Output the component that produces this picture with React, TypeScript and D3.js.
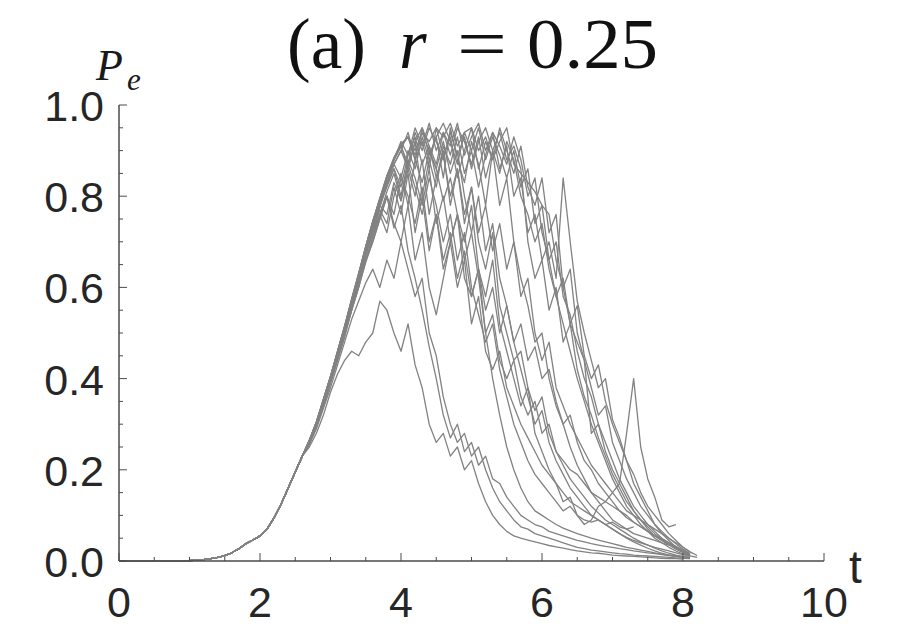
import React from "react";
import * as d3 from "d3";

const W = 910;
const H = 631;

const xTicks = [0, 2, 4, 6, 8, 10];
const yTicks = [0, 0.2, 0.4, 0.6, 0.8, 1.0];

// every run is sampled every 0.1 in t; the shared rise covers t = 0 .. 2.6
const tStep = 0.1;
const branchT = 2.7;
const rise = [0, 0, 0, 0, 0, 0, 0, 0, 0, 0, 0.001, 0.002, 0.003, 0.005, 0.008, 0.012, 0.018, 0.027, 0.038, 0.046, 0.055, 0.07, 0.095, 0.125, 0.16, 0.195, 0.23];

// values from t = 2.7 onwards
const run01 = [.265, .305, .355, .405, .46, .515, .575, .63, .69, .745, .795, .845, .885, .915, .93, .90, .94, .92, .95, .93, .96, .91, .94, .95, .90, .93, .88, .92, .95, .87, .85, .83, .81, .78, .76, .66, .60, .52, .56, .45, .40, .43, .35, .30, .26, .22, .17, .14, .11, .08, .06, .045, .03, .02, .012];
const run02 = [.26, .30, .35, .40, .455, .51, .57, .625, .68, .735, .78, .83, .87, .84, .90, .86, .93, .88, .82, .91, .87, .93, .85, .90, .82, .89, .94, .86, .91, .80, .84, .72, .76, .66, .70, .62, .84, .70, .57, .50, .44, .38, .40, .31, .27, .22, .19, .15, .12, .10, .08, .06, .045, .03, .02, .012];
const run03 = [.26, .295, .34, .39, .44, .49, .55, .60, .66, .71, .76, .72, .80, .85, .78, .88, .83, .90, .86, .79, .84, .76, .70, .78, .64, .58, .66, .52, .46, .40, .34, .38, .28, .24, .20, .17, .13, .14, .10, .08, .09, .12, .13, .15, .17, .28, .40, .25, .18, .14, .09, .075, .08];
const run04 = [.25, .28, .32, .37, .41, .44, .46, .45, .48, .50, .57, .55, .50, .46, .52, .43, .38, .30, .26, .28, .23, .25, .20, .22, .17, .13, .10, .08, .065, .055, .05, .046, .042, .038, .034, .031, .028, .025, .022, .02, .018, .017, .015, .013, .012, .011, .01, .009, .008, .007, .006, .005, .005, .004];
const run05 = [.255, .29, .335, .38, .43, .48, .53, .57, .61, .64, .60, .66, .62, .70, .64, .58, .62, .50, .45, .36, .30, .26, .28, .23, .25, .20, .16, .13, .11, .09, .075, .07, .06, .055, .05, .045, .04, .035, .03, .027, .024, .022, .02, .018, .016, .015, .013, .012, .011, .01, .009, .008, .007, .006, .005];
const run06 = [.26, .30, .345, .395, .45, .50, .555, .61, .66, .70, .75, .80, .73, .78, .68, .62, .55, .47, .40, .32, .27, .30, .24, .26, .21, .23, .18, .17, .14, .12, .10, .09, .08, .075, .065, .06, .055, .05, .045, .042, .038, .035, .032, .03, .027, .025, .022, .02, .018, .016, .014, .012, .01, .009, .008];
const run07 = [.262, .30, .35, .40, .455, .51, .565, .62, .68, .73, .78, .82, .86, .80, .88, .84, .78, .86, .74, .80, .70, .76, .62, .58, .64, .50, .54, .44, .40, .44, .36, .32, .35, .28, .30, .24, .22, .20, .19, .17, .15, .14, .13, .12, .11, .095, .085, .075, .065, .055, .045, .038, .03, .022, .015];
const run08 = [.265, .305, .355, .405, .46, .515, .57, .625, .685, .74, .79, .84, .88, .91, .87, .94, .90, .95, .92, .88, .94, .89, .93, .86, .92, .95, .90, .85, .92, .88, .80, .76, .70, .74, .64, .58, .62, .52, .48, .44, .28, .30, .24, .20, .17, .14, .11, .09, .07, .055, .045, .035, .026, .018, .012];
const run09 = [.262, .30, .35, .40, .45, .50, .55, .60, .655, .70, .75, .80, .76, .84, .80, .74, .82, .70, .76, .66, .72, .62, .68, .58, .64, .55, .60, .50, .56, .48, .52, .44, .47, .40, .42, .35, .30, .32, .26, .22, .20, .17, .15, .13, .11, .10, .085, .075, .065, .055, .048, .04, .032, .024, .016];
const run10 = [.264, .303, .352, .40, .455, .51, .57, .625, .685, .74, .79, .84, .88, .91, .93, .89, .94, .90, .86, .92, .85, .90, .80, .72, .62, .50, .40, .32, .25, .20, .16, .13, .11, .10, .09, .08, .072, .066, .06, .055, .05, .046, .042, .038, .034, .03, .027, .024, .021, .018, .015, .013, .011, .009, .007];
const run11 = [.263, .302, .35, .40, .455, .51, .565, .62, .68, .735, .785, .83, .87, .90, .86, .92, .95, .89, .93, .96, .92, .87, .94, .90, .95, .88, .93, .89, .84, .90, .82, .86, .74, .78, .66, .70, .58, .54, .46, .40, .36, .30, .26, .22, .18, .15, .12, .10, .08, .065, .05, .04, .03, .02, .013];
const run12 = [.26, .298, .345, .395, .45, .505, .56, .615, .67, .72, .77, .74, .82, .76, .85, .72, .80, .68, .76, .64, .70, .60, .66, .52, .58, .46, .42, .46, .38, .34, .30, .27, .24, .21, .19, .17, .15, .13, .12, .11, .10, .09, .08, .07, .06, .052, .045, .04, .035, .03, .026, .022, .018, .014, .011, .008];
const run13 = [.258, .295, .34, .39, .44, .495, .55, .605, .66, .71, .76, .81, .85, .79, .87, .82, .76, .84, .78, .70, .76, .66, .72, .60, .54, .48, .52, .42, .36, .30, .26, .22, .19, .17, .15, .13, .11, .12, .10, .09, .085, .09, .08, .085, .075, .07, .075];
const run14 = [.264, .304, .353, .403, .457, .512, .57, .627, .686, .74, .79, .84, .88, .91, .93, .88, .95, .91, .87, .94, .89, .95, .92, .87, .93, .84, .90, .78, .84, .70, .62, .56, .48, .50, .40, .34, .30, .25, .21, .18, .15, .13, .11, .09, .08, .07, .06, .055, .05, .045, .04, .035];
const run15 = [.265, .305, .354, .404, .458, .513, .572, .628, .688, .743, .793, .843, .883, .912, .86, .92, .80, .88, .93, .84, .95, .88, .83, .92, .87, .78, .90, .94, .88, .91, .86, .70, .62, .66, .55, .60, .48, .52, .42, .36, .32, .27, .23, .19, .16, .13, .11, .09, .075, .06, .048, .038, .028, .02, .013];
const run16 = [.26, .30, .348, .398, .45, .505, .56, .615, .67, .725, .775, .825, .86, .82, .89, .93, .87, .91, .84, .89, .80, .86, .76, .82, .72, .78, .68, .74, .64, .70, .58, .62, .50, .44, .48, .38, .34, .30, .27, .24, .21, .19, .17, .15, .13, .11, .10, .09, .08, .07, .06, .05, .04, .03, .02];
const run17 = [.264, .304, .354, .404, .458, .513, .572, .63, .69, .745, .795, .845, .88, .92, .89, .95, .91, .96, .90, .94, .91, .96, .89, .93, .96, .90, .94, .91, .87, .93, .88, .80, .84, .72, .66, .58, .52, .46, .40, .35, .30, .26, .22, .18, .15, .12, .10, .08, .065, .05, .04, .03, .022, .015, .01];
const run18 = [.262, .30, .35, .40, .452, .507, .562, .618, .675, .73, .78, .76, .83, .79, .86, .80, .88, .76, .84, .90, .78, .86, .74, .82, .70, .64, .72, .56, .50, .44, .46, .38, .33, .36, .28, .24, .21, .18, .16, .14, .12, .105, .09, .08, .07, .06, .05, .042, .035, .028, .022, .017, .013, .01, .008];
const run19 = [.265, .305, .355, .405, .46, .515, .575, .632, .69, .745, .795, .84, .87, .90, .94, .88, .92, .86, .95, .89, .93, .84, .90, .95, .86, .92, .88, .95, .90, .85, .91, .82, .78, .84, .72, .76, .60, .64, .50, .44, .38, .32, .34, .26, .22, .18, .15, .12, .10, .08, .065, .05, .038, .026, .016];
const run20 = [.262, .302, .35, .40, .452, .508, .565, .62, .675, .72, .76, .80, .74, .70, .78, .66, .72, .60, .54, .62, .70, .76, .66, .72, .80, .68, .74, .62, .56, .48, .42, .36, .30, .33, .26, .22, .19, .16, .14, .12, .10, .09, .08, .07, .06, .05, .042, .035, .028, .022, .017, .013, .01, .008];

const runs = [run01, run02, run03, run04, run05, run06, run07, run08, run09, run10, run11, run12, run13, run14, run15, run16, run17, run18, run19, run20];

const axisColor = "#4a4a4a";
const lineColor = "#828282";
const sans = "'Liberation Sans', Arial, sans-serif";
const serif = "'Liberation Serif', 'Times New Roman', serif";

export default function App() {
  const x = d3.scaleLinear().domain([0, 10]).range([119, 824]);
  const y = d3.scaleLinear().domain([0, 1]).range([561, 105]);

  const line = d3
    .line<[number, number]>()
    .x((d) => x(d[0]))
    .y((d) => y(d[1]));

  const toPoints = (vals: number[]): [number, number][] => [
    ...rise.map((v, i) => [i * tStep, v] as [number, number]),
    ...vals.map((v, i) => [branchT + i * tStep, v] as [number, number]),
  ];

  const xMinor = d3.range(0, 10.001, 0.5);
  const yMinor = d3.range(0, 1.0001, 0.05);

  return (
    <svg width={W} height={H} style={{ position: "absolute", left: 0, top: 0, background: "#fff" }}>
      <rect width={W} height={H} fill="#fff" />

      {/* trajectories */}
      <g fill="none" stroke={lineColor} strokeWidth={1.3} strokeLinejoin="round">
        {runs.map((r, i) => (
          <path key={i} d={line(toPoints(r)) || ""} />
        ))}
      </g>

      {/* axes */}
      <g stroke={axisColor} strokeWidth={1.5}>
        <line x1={x(0)} x2={x(10)} y1={y(0)} y2={y(0)} />
        <line x1={x(0)} x2={x(0)} y1={y(0)} y2={y(1)} />
        {xMinor.map((t) => {
          const major = Math.abs(t / 2 - Math.round(t / 2)) < 1e-6;
          return <line key={"xm" + t} x1={x(t)} x2={x(t)} y1={y(0)} y2={y(0) - (major ? 8 : 4)} strokeWidth={1} />;
        })}
        {yMinor.map((v) => {
          const major = Math.abs(v / 0.2 - Math.round(v / 0.2)) < 1e-6;
          return <line key={"ym" + v} x1={x(0)} x2={x(0) + (major ? 8 : 4)} y1={y(v)} y2={y(v)} strokeWidth={1} />;
        })}
      </g>

      {/* tick labels */}
      <g fill="#262626" fontFamily={sans} fontSize={43}>
        {yTicks.map((v) => (
          <text key={"yl" + v} x={104} y={y(v) + 16} textAnchor="end">
            {d3.format(".1f")(v)}
          </text>
        ))}
        {xTicks.map((t) => (
          <text key={"xl" + t} x={x(t)} y={617} textAnchor="middle">
            {t}
          </text>
        ))}
      </g>
      <text x={849} y={583} fontFamily={sans} fontSize={46} fill="#262626">t</text>

      {/* y label */}
      <g fill="#1a1a1a" fontFamily={serif} fontStyle="italic">
        <text x={96} y={80} fontSize={44}>P</text>
        <text x={127} y={90} fontSize={31}>e</text>
      </g>

      {/* title */}
      <g fontFamily={serif} fontSize={71} fill="#111">
        <text x={287} y={68}>(a)</text>
        <text x={399} y={68} fontStyle="italic">r</text>
        <text x={457} y={68} textLength={50} lengthAdjust="spacingAndGlyphs">=</text>
        <text x={527} y={68} textLength={131} lengthAdjust="spacingAndGlyphs">0.25</text>
      </g>
    </svg>
  );
}
